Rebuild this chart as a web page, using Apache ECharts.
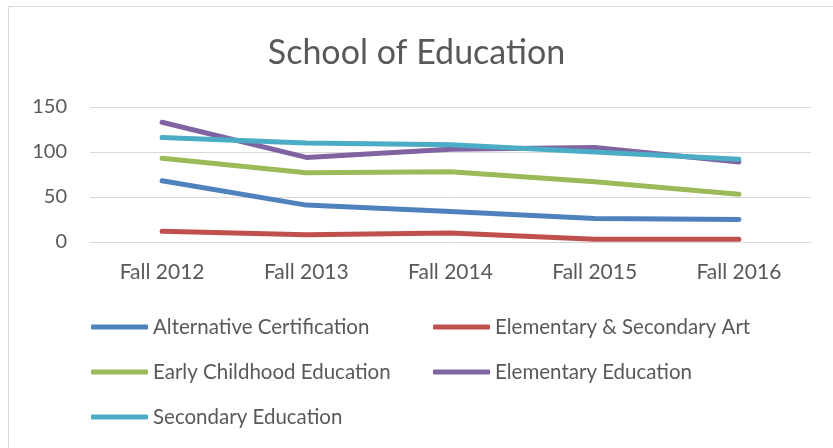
<!DOCTYPE html>
<html>
<head>
<meta charset="utf-8">
<script src="https://cdn.jsdelivr.net/npm/echarts@6/dist/echarts.min.js"></script>
<style>
  html, body { margin: 0; padding: 0; background: #fff; }
  #chart { width: 833px; height: 448px; }
</style>
</head>
<body>
<div id="chart"></div>
<script>
var categories = ['Fall 2012', 'Fall 2013', 'Fall 2014', 'Fall 2015', 'Fall 2016'];
var altCert = [68, 41, 34, 26, 25];
var elemSecArt = [12, 8, 10, 3, 3];
var earlyChildhood = [93, 77, 78, 67, 53];
var elementaryEd = [133, 94, 103, 105, 89];
var secondaryEd = [116, 110, 108, 100, 92];
var yTicks = [0, 50, 100, 150];

var textColor = '#595959';
var fontName = 'Lato';

var chart = echarts.init(document.getElementById('chart'));

function lineSeries(name, data, color) {
  return {
    name: name,
    type: 'line',
    data: data,
    symbol: 'none',
    smooth: false,
    lineStyle: { width: 5, color: color, cap: 'round', join: 'round' },
    itemStyle: { color: color }
  };
}

var option = {
  animation: false,
  backgroundColor: '#fff',
  graphic: [{
    type: 'rect',
    shape: { x: 8.5, y: 6.5, width: 900, height: 500 },
    style: { fill: 'none', stroke: '#d9d9d9', lineWidth: 1 },
    silent: true
  }],
  title: {
    text: 'School of Education',
    left: 'center',
    top: 31,
    textStyle: { fontFamily: fontName, fontWeight: 'normal', fontSize: 34, color: textColor }
  },
  grid: { left: 90, right: 22, top: 107, bottom: 206, containLabel: false },
  xAxis: {
    type: 'category',
    data: categories,
    boundaryGap: true,
    axisLine: { show: true, lineStyle: { color: '#d9d9d9', width: 1 } },
    axisTick: { show: false },
    axisLabel: { color: textColor, fontFamily: fontName, fontSize: 21, margin: 20 }
  },
  yAxis: {
    type: 'value',
    min: yTicks[0],
    max: yTicks[yTicks.length - 1],
    interval: 50,
    axisLine: { show: false },
    axisTick: { show: false },
    splitLine: { lineStyle: { color: '#d9d9d9', width: 1 } },
    axisLabel: { color: textColor, fontFamily: fontName, fontSize: 20, margin: 23 }
  },
  legend: {
    left: 86,
    top: 310,
    width: 720,
    itemWidth: 57,
    itemHeight: 5,
    itemGap: 21,
    icon: 'roundRect',
    textStyle: { color: textColor, fontFamily: fontName, fontSize: 20.5, width: 259, height: 24, lineHeight: 24 }
  },
  series: [
    lineSeries('Alternative Certification', altCert, '#4f81bd'),
    lineSeries('Elementary & Secondary Art', elemSecArt, '#c0504d'),
    lineSeries('Early Childhood Education', earlyChildhood, '#9bbb59'),
    lineSeries('Elementary Education', elementaryEd, '#8064a2'),
    lineSeries('Secondary Education', secondaryEd, '#4bacc6')
  ]
};

chart.setOption(option);
</script>
</body>
</html>
